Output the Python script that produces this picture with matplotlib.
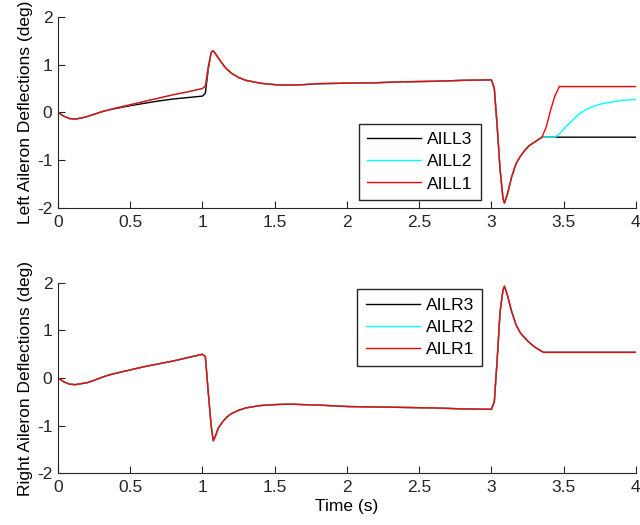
import numpy as np
import matplotlib
matplotlib.use('Agg')
import matplotlib.pyplot as plt

plt.rcParams['font.family'] = ['Liberation Sans', 'DejaVu Sans']
plt.rcParams['font.size'] = 12.5
plt.rcParams['axes.unicode_minus'] = False

# left aileron, AILL1 (red)
t_l1 = [0, 0.04, 0.08, 0.12, 0.16, 0.2, 0.25, 0.3, 0.35, 0.4, 0.5, 0.6, 0.7, 0.8, 0.9, 1.0,
        1.02, 1.04, 1.06, 1.07, 1.08, 1.1, 1.13, 1.16, 1.2, 1.25, 1.3, 1.4, 1.5, 1.6, 1.7, 1.8,
        2.0, 2.2, 2.4, 2.6, 2.8, 3.0, 3.02, 3.04, 3.06, 3.08, 3.09, 3.11, 3.14, 3.17, 3.2,
        3.23, 3.26, 3.3, 3.35, 3.38, 3.41, 3.44, 3.47, 4.0]
ail_l1 = [0, -0.08, -0.13, -0.14, -0.12, -0.09, -0.04, 0.01, 0.05, 0.09, 0.16, 0.23, 0.3, 0.37, 0.43, 0.5,
          0.55, 0.95, 1.25, 1.29, 1.27, 1.18, 1.05, 0.93, 0.82, 0.73, 0.67, 0.61, 0.58, 0.57, 0.58, 0.6,
          0.61, 0.62, 0.64, 0.65, 0.67, 0.68, 0.5, -0.3, -1.2, -1.8, -1.9, -1.72, -1.35, -1.08, -0.92,
          -0.8, -0.7, -0.62, -0.52, -0.3, 0.05, 0.35, 0.54, 0.54]

# AILL2 (cyan) - same as AILL1 up to 3.35 s
t_l2 = [0, 0.04, 0.08, 0.12, 0.16, 0.2, 0.25, 0.3, 0.35, 0.4, 0.5, 0.6, 0.7, 0.8, 0.9, 1.0,
        1.02, 1.04, 1.06, 1.07, 1.08, 1.1, 1.13, 1.16, 1.2, 1.25, 1.3, 1.4, 1.5, 1.6, 1.7, 1.8,
        2.0, 2.2, 2.4, 2.6, 2.8, 3.0, 3.02, 3.04, 3.06, 3.08, 3.09, 3.11, 3.14, 3.17, 3.2,
        3.23, 3.26, 3.3, 3.35, 3.44, 3.47, 3.5, 3.55, 3.6, 3.65, 3.7, 3.75, 3.8, 3.9, 4.0]
ail_l2 = [0, -0.08, -0.13, -0.14, -0.12, -0.09, -0.04, 0.01, 0.05, 0.09, 0.16, 0.23, 0.3, 0.37, 0.43, 0.5,
          0.55, 0.95, 1.25, 1.29, 1.27, 1.18, 1.05, 0.93, 0.82, 0.73, 0.67, 0.61, 0.58, 0.57, 0.58, 0.6,
          0.61, 0.62, 0.64, 0.65, 0.67, 0.68, 0.5, -0.3, -1.2, -1.8, -1.9, -1.72, -1.35, -1.08, -0.92,
          -0.8, -0.7, -0.62, -0.52, -0.52, -0.45, -0.35, -0.2, -0.05, 0.05, 0.12, 0.17, 0.2, 0.25, 0.27]

# AILL3 (black)
t_l3 = [0, 0.04, 0.08, 0.12, 0.16, 0.2, 0.25, 0.3, 0.35, 0.4, 0.5, 0.6, 0.7, 0.8, 0.9, 1.0,
        1.02, 1.04, 1.06, 1.07, 1.08, 1.1, 1.13, 1.16, 1.2, 1.25, 1.3, 1.4, 1.5, 1.6, 1.7, 1.8,
        2.0, 2.2, 2.4, 2.6, 2.8, 3.0, 3.02, 3.04, 3.06, 3.08, 3.09, 3.11, 3.14, 3.17, 3.2,
        3.23, 3.26, 3.3, 3.35, 3.44, 4.0]
ail_l3 = [0, -0.08, -0.13, -0.14, -0.12, -0.09, -0.04, 0.01, 0.05, 0.08, 0.14, 0.19, 0.24, 0.28, 0.31, 0.34,
          0.4, 0.9, 1.25, 1.29, 1.27, 1.18, 1.05, 0.93, 0.82, 0.73, 0.67, 0.61, 0.58, 0.57, 0.58, 0.6,
          0.61, 0.62, 0.64, 0.65, 0.67, 0.68, 0.5, -0.3, -1.2, -1.8, -1.9, -1.72, -1.35, -1.08, -0.92,
          -0.8, -0.7, -0.62, -0.52, -0.52, -0.52]

# right aileron (all three channels identical)
t_r = [0, 0.04, 0.08, 0.12, 0.16, 0.2, 0.25, 0.3, 0.35, 0.4, 0.5, 0.6, 0.7, 0.8, 0.9, 1.0,
       1.02, 1.04, 1.06, 1.075, 1.09, 1.11, 1.14, 1.17, 1.2, 1.25, 1.3, 1.4, 1.5, 1.6, 1.8,
       2.0, 2.2, 2.4, 2.6, 2.8, 3.0, 3.02, 3.04, 3.06, 3.08, 3.09, 3.11, 3.14, 3.17, 3.2,
       3.25, 3.3, 3.36, 4.0]
ail_r = [0, -0.08, -0.13, -0.14, -0.12, -0.1, -0.05, 0.01, 0.06, 0.1, 0.17, 0.24, 0.3, 0.36, 0.43, 0.5,
         0.45, -0.3, -1.0, -1.32, -1.22, -1.05, -0.92, -0.82, -0.75, -0.68, -0.63, -0.58, -0.56, -0.55, -0.57,
         -0.6, -0.61, -0.62, -0.63, -0.65, -0.66, -0.5, 0.4, 1.4, 1.85, 1.93, 1.75, 1.4, 1.12, 0.95,
         0.78, 0.65, 0.54, 0.54]

left_names = ['AILL3', 'AILL2', 'AILL1']
right_names = ['AILR3', 'AILR2', 'AILR1']
colors = ['black', '#00ffff', 'red']
xticks = [0, 0.5, 1, 1.5, 2, 2.5, 3, 3.5, 4]
yticks = [-2, -1, 0, 1, 2]

fig = plt.figure(figsize=(6.4, 5.25), dpi=100)
ax1 = fig.add_axes([0.0906, 0.604, 0.903, 0.364])
ax2 = fig.add_axes([0.0906, 0.099, 0.903, 0.362])

ax1.plot(t_l3, ail_l3, color=colors[0], lw=1, label=left_names[0])
ax1.plot(t_l2, ail_l2, color=colors[1], lw=1, label=left_names[1])
ax1.plot(t_l1, ail_l1, color=colors[2], lw=1, label=left_names[2])
ax1.set_ylabel('Left Aileron Deflections (deg)')

for i in range(3):
    ax2.plot(t_r, ail_r, color=colors[i], lw=1, label=right_names[i])
ax2.set_ylabel('Right Aileron Deflections (deg)')
ax2.set_xlabel('Time (s)', labelpad=3)

for ax in (ax1, ax2):
    ax.set_xlim(0, 4)
    ax.set_ylim(-2, 2)
    ax.set_xticks(xticks)
    ax.set_xticklabels(['0', '0.5', '1', '1.5', '2', '2.5', '3', '3.5', '4'])
    ax.set_yticks(yticks)
    ax.spines['top'].set_visible(False)
    ax.spines['right'].set_visible(False)
    ax.spines['left'].set_color('#262626')
    ax.spines['bottom'].set_color('#262626')
    ax.tick_params(direction='in', length=5, colors='#262626', labelcolor='#262626')
    ax.tick_params(axis='x', pad=5)
    ax.tick_params(axis='y', pad=4)
    ax.yaxis.labelpad = 3

leg1 = ax1.legend(loc='lower left', bbox_to_anchor=(0.52, 0.04, 0.212, 0.42), mode='expand',
                  fancybox=False, edgecolor='#262626', framealpha=1, handlelength=3.1,
                  borderaxespad=0, labelspacing=0.4, borderpad=0.5, handletextpad=0.35)
leg1.get_frame().set_linewidth(1)
leg2 = ax2.legend(loc='upper left', bbox_to_anchor=(0.518, 0.538, 0.215, 0.43), mode='expand',
                  fancybox=False, edgecolor='#262626', framealpha=1, handlelength=3.1,
                  borderaxespad=0, labelspacing=0.4, borderpad=0.5, handletextpad=0.35)
leg2.get_frame().set_linewidth(1)

fig.savefig('out.png', dpi=100)
